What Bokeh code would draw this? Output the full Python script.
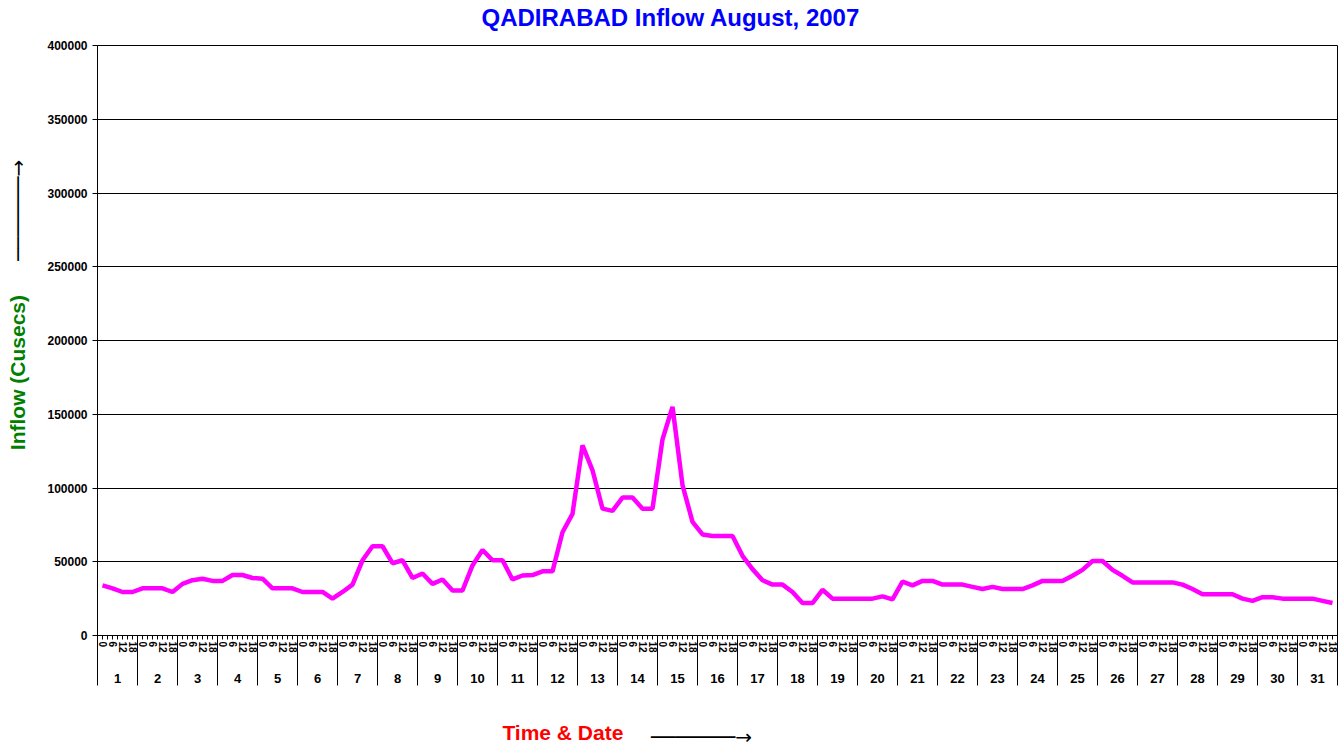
from bokeh.plotting import figure
from bokeh.models import Range1d, FixedTicker, LinearAxis, NumeralTickFormatter
from bokeh.embed import file_html
from bokeh.resources import INLINE

# ---------------- data ----------------
days = list(range(1, 32))
hours = ["0", "6", "12", "18"]
y_ticks = [0, 50000, 100000, 150000, 200000, 250000, 300000, 350000, 400000]

inflow = [
    34000, 32000, 29500, 29500,   # 1
    32000, 32000, 32000, 29500,   # 2
    35000, 37500, 38500, 37000,   # 3
    37000, 41000, 41000, 39000,   # 4
    38500, 32000, 32000, 32000,   # 5
    29500, 29500, 29500, 25000,   # 6
    29500, 34500, 51000, 60500,   # 7
    60500, 49000, 51000, 39000,   # 8
    42000, 35000, 38000, 30500,   # 9
    30500, 47500, 58000, 51000,   # 10
    51000, 38000, 40700, 41000,   # 11
    43500, 43500, 70000, 82500,   # 12
    129000, 112000, 86000, 84500, # 13
    93500, 93500, 86000, 86000,   # 14
    133000, 155000, 102000, 77000,# 15
    68500, 67500, 67500, 67500,   # 16
    54000, 45000, 37500, 34500,   # 17
    34500, 29500, 22000, 22000,   # 18
    31000, 25000, 25000, 25000,   # 19
    25000, 25000, 26500, 24500,   # 20
    36500, 34000, 37000, 37000,   # 21
    34500, 34500, 34500, 33000,   # 22
    31500, 33000, 31500, 31500,   # 23
    31500, 34000, 37000, 37000,   # 24
    37000, 40500, 44500, 50500,   # 25
    50500, 44500, 40500, 36000,   # 26
    36000, 36000, 36000, 36000,   # 27
    34500, 31500, 28000, 28000,   # 28
    28000, 28000, 25000, 23500,   # 29
    26000, 26000, 25000, 25000,   # 30
    25000, 25000, 23500, 22000,   # 31
]

title_text = "QADIRABAD Inflow August, 2007"
y_label = "Inflow (Cusecs)"
x_label = "Time & Date"

# ---------------- figure ----------------
n = len(inflow)
per_day = len(hours)
x = [i + 0.5 for i in range(n)]

FONT = "Liberation Sans"
NB = "\u00a0"                     # non-breaking space, shifts centred axis titles
ARROW = "\u2500" * 7 + "\u2192"   # long thin arrow drawn as text

p = figure(frame_width=1240, frame_height=590, title=None,
           x_range=Range1d(0, n), y_range=Range1d(0, 400000),
           output_backend="svg", toolbar_location=None,
           min_border_left=97, min_border_top=45, min_border_right=3,
           min_border_bottom=115, x_axis_location=None,
           background_fill_color="white", border_fill_color="white")

p.outline_line_color = "black"
p.outline_line_alpha = 1.0
p.outline_line_width = 1

# y axis
yax = p.yaxis[0]
yax.ticker = FixedTicker(ticks=y_ticks)
yax.formatter = NumeralTickFormatter(format="0")
yax.major_label_text_font = FONT
yax.major_label_text_font_style = "bold"
yax.major_label_text_font_size = "12px"
yax.major_label_text_color = "black"
yax.major_tick_out = 5
yax.major_tick_in = 0
yax.minor_tick_line_color = None
yax.minor_tick_out = 0
yax.axis_line_color = "black"
yax.major_label_standoff = 5
yax.axis_label = y_label + NB * 11
yax.axis_label_standoff = 15
yax.axis_label_text_font = FONT
yax.axis_label_text_font_style = "bold"
yax.axis_label_text_font_size = "21px"
yax.axis_label_text_color = "#008000"

p.ygrid.ticker = FixedTicker(ticks=y_ticks)
p.ygrid.grid_line_color = "black"
p.ygrid.grid_line_alpha = 1.0
p.xgrid.visible = False

# series
p.line(x, inflow, line_color="#FF00FF", line_width=4.5)


def empty_axis(**kw):
    base = dict(ticker=FixedTicker(ticks=[], minor_ticks=[]),
                major_tick_out=0, major_tick_in=0,
                minor_tick_out=0, minor_tick_in=0,
                major_label_standoff=0,
                axis_line_color=None, major_tick_line_color=None,
                minor_tick_line_color=None)
    base.update(kw)
    return LinearAxis(**base)


# vertical arrow beside the y title (label of an empty outer left axis)
axL = empty_axis(axis_label=NB * 41 + ARROW,
                 axis_label_standoff=-26,
                 axis_label_text_font="DejaVu Sans",
                 axis_label_text_font_size="20px",
                 axis_label_text_color="black")
p.add_layout(axL, "left")

# chart title (label of an empty axis above the frame)
axT = empty_axis(axis_label=title_text + NB * 14,
                 axis_label_standoff=15,
                 axis_label_text_font=FONT,
                 axis_label_text_font_style="bold",
                 axis_label_text_font_size="24px",
                 axis_label_text_color="#0000FF")
p.add_layout(axT, "above")

# hour axis (first row)
tick_pos = [k * 0.5 for k in range(2 * n + 1)]
sep_pos = [float(per_day * d) for d in range(len(days) + 1)]
over1 = {t: "" for t in tick_pos}
for i in range(n):
    over1[i + 0.5] = hours[i % per_day]
ax1 = LinearAxis(ticker=FixedTicker(ticks=tick_pos, minor_ticks=[]),
                 major_label_overrides=over1,
                 major_label_orientation="vertical",
                 major_tick_out=4, major_tick_in=0,
                 minor_tick_out=0, minor_tick_in=0,
                 minor_tick_line_color=None,
                 major_label_standoff=2,
                 major_label_text_font=FONT,
                 major_label_text_font_style="bold",
                 major_label_text_font_size="10px",
                 major_label_text_color="black",
                 axis_line_color="black",
                 major_tick_line_color="black")
p.add_layout(ax1, "below")

# day axis (second row)
day_pos = [per_day * d + per_day / 2 for d in range(len(days))]
over2 = {pos: str(d) for pos, d in zip(day_pos, days)}
ax2 = LinearAxis(ticker=FixedTicker(ticks=day_pos, minor_ticks=[]),
                 major_label_overrides=over2,
                 major_tick_out=0, major_tick_in=0,
                 minor_tick_out=0, minor_tick_in=0,
                 major_tick_line_color=None, minor_tick_line_color=None,
                 axis_line_color=None,
                 major_label_standoff=18,
                 major_label_text_font=FONT,
                 major_label_text_font_style="bold",
                 major_label_text_font_size="13px",
                 major_label_text_color="black")
p.add_layout(ax2, "below")

# day separators (label-less axis whose ticks reach up to the frame) + x title
over3 = {t: "" for t in sep_pos}
ax3 = LinearAxis(ticker=FixedTicker(ticks=sep_pos, minor_ticks=[]),
                 major_label_overrides=over3,
                 major_tick_out=0, major_tick_in=50,
                 minor_tick_out=0, minor_tick_in=0,
                 minor_tick_line_color=None,
                 major_tick_line_color="black",
                 axis_line_color=None,
                 major_label_standoff=0,
                 major_label_text_font_size="1px",
                 axis_label=x_label + NB * 53,
                 axis_label_standoff=35,
                 axis_label_text_font=FONT,
                 axis_label_text_font_style="bold",
                 axis_label_text_font_size="21px",
                 axis_label_text_color="#FF0000")
p.add_layout(ax3, "below")

# horizontal arrow beside the x title (label of an empty axis pulled up a row)
axB = empty_axis(axis_label=ARROW + NB * 5,
                 axis_label_standoff=-22,
                 axis_label_text_font="DejaVu Sans",
                 axis_label_text_font_size="20px",
                 axis_label_text_color="black")
p.add_layout(axB, "below")

open("out.html", "w").write(file_html(p, INLINE))
